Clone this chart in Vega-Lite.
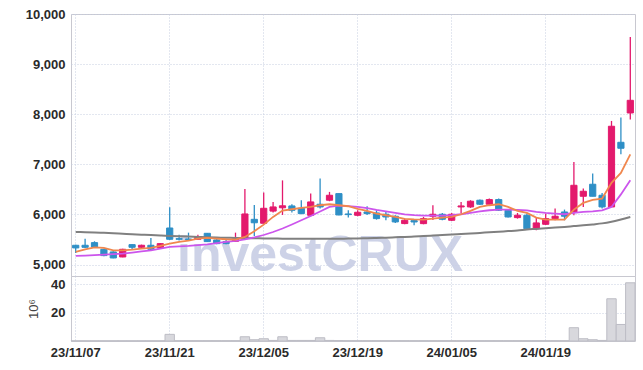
{
  "$schema": "https://vega.github.io/schema/vega-lite/v6.json",
  "padding": {"left": 24, "top": 7, "right": 10, "bottom": 9},
  "spacing": 0,
  "bounds": "flush",
  "background": "white",
  "datasets": {
    "k": [
      {"d":"23/11/07","o":5385,"h":5398,"l":5232,"c":5332,"m5":5252,"m20":5172,"mL":5650,"v":0.15},
      {"d":"23/11/08","o":5385,"h":5517,"l":5332,"c":5345,"m5":5305,"m20":5180,"mL":5645,"v":0.15},
      {"d":"23/11/09","o":5438,"h":5465,"l":5332,"c":5352,"m5":5345,"m20":5190,"mL":5640,"v":0.15},
      {"d":"23/11/10","o":5305,"h":5318,"l":5166,"c":5179,"m5":5332,"m20":5200,"mL":5633,"v":0.15},
      {"d":"23/11/13","o":5252,"h":5266,"l":5125,"c":5132,"m5":5285,"m20":5210,"mL":5625,"v":0.15},
      {"d":"23/11/14","o":5152,"h":5318,"l":5145,"c":5305,"m5":5285,"m20":5220,"mL":5615,"v":0.15},
      {"d":"23/11/15","o":5398,"h":5405,"l":5305,"c":5345,"m5":5299,"m20":5240,"mL":5605,"v":0.15},
      {"d":"23/11/16","o":5345,"h":5398,"l":5318,"c":5385,"m5":5318,"m20":5262,"mL":5597,"v":0.15},
      {"d":"23/11/17","o":5385,"h":5531,"l":5285,"c":5305,"m5":5332,"m20":5285,"mL":5590,"v":0.15},
      {"d":"23/11/20","o":5332,"h":5425,"l":5318,"c":5418,"m5":5372,"m20":5320,"mL":5580,"v":0.15},
      {"d":"23/11/21","o":5730,"h":6143,"l":5491,"c":5505,"m5":5418,"m20":5352,"mL":5572,"v":4.7},
      {"d":"23/11/22","o":5518,"h":5597,"l":5478,"c":5505,"m5":5451,"m20":5362,"mL":5566,"v":0.2},
      {"d":"23/11/23","o":5511,"h":5637,"l":5485,"c":5498,"m5":5478,"m20":5372,"mL":5560,"v":0.2},
      {"d":"23/11/24","o":5505,"h":5597,"l":5498,"c":5551,"m5":5518,"m20":5390,"mL":5552,"v":0.2},
      {"d":"23/11/27","o":5624,"h":5631,"l":5451,"c":5458,"m5":5531,"m20":5405,"mL":5545,"v":0.2},
      {"d":"23/11/28","o":5491,"h":5531,"l":5405,"c":5418,"m5":5518,"m20":5428,"mL":5540,"v":0.2},
      {"d":"23/11/29","o":5458,"h":5491,"l":5405,"c":5418,"m5":5505,"m20":5451,"mL":5535,"v":0.2},
      {"d":"23/11/30","o":5465,"h":5637,"l":5458,"c":5511,"m5":5498,"m20":5471,"mL":5532,"v":0.2},
      {"d":"23/12/01","o":5518,"h":6510,"l":5491,"c":6010,"m5":5551,"m20":5505,"mL":5528,"v":3.0},
      {"d":"23/12/04","o":5903,"h":6190,"l":5570,"c":5834,"m5":5665,"m20":5545,"mL":5525,"v":0.9},
      {"d":"23/12/05","o":5824,"h":6436,"l":5818,"c":6123,"m5":5797,"m20":5590,"mL":5522,"v":1.6},
      {"d":"23/12/06","o":6067,"h":6250,"l":6037,"c":6150,"m5":5951,"m20":5650,"mL":5519,"v":0.4},
      {"d":"23/12/07","o":6133,"h":6680,"l":5990,"c":6173,"m5":6077,"m20":5720,"mL":5517,"v":3.0},
      {"d":"23/12/08","o":6170,"h":6204,"l":6037,"c":6083,"m5":6104,"m20":5800,"mL":5515,"v":0.4},
      {"d":"23/12/11","o":6124,"h":6284,"l":6004,"c":6017,"m5":6130,"m20":5884,"mL":5514,"v":0.4},
      {"d":"23/12/12","o":5983,"h":6416,"l":5963,"c":6250,"m5":6150,"m20":5970,"mL":5513,"v":0.4},
      {"d":"23/12/13","o":6204,"h":6720,"l":6117,"c":6150,"m5":6184,"m20":6060,"mL":5513,"v":2.3},
      {"d":"23/12/14","o":6284,"h":6450,"l":6264,"c":6383,"m5":6204,"m20":6150,"mL":5514,"v":0.4},
      {"d":"23/12/15","o":6416,"h":6420,"l":5983,"c":5990,"m5":6184,"m20":6175,"mL":5516,"v":0.3},
      {"d":"23/12/18","o":6010,"h":6084,"l":5937,"c":5997,"m5":6164,"m20":6165,"mL":5518,"v":0.2},
      {"d":"23/12/19","o":5983,"h":6084,"l":5964,"c":6044,"m5":6110,"m20":6150,"mL":5521,"v":0.2},
      {"d":"23/12/20","o":6050,"h":6164,"l":5990,"c":6017,"m5":6071,"m20":6125,"mL":5525,"v":0.2},
      {"d":"23/12/21","o":6030,"h":6084,"l":5897,"c":5917,"m5":6017,"m20":6090,"mL":5530,"v":0.2},
      {"d":"23/12/22","o":6004,"h":6070,"l":5884,"c":5950,"m5":5984,"m20":6060,"mL":5537,"v":0.2},
      {"d":"23/12/26","o":5964,"h":5984,"l":5831,"c":5851,"m5":5951,"m20":6030,"mL":5544,"v":0.2},
      {"d":"23/12/27","o":5818,"h":5917,"l":5804,"c":5884,"m5":5910,"m20":6000,"mL":5552,"v":0.2},
      {"d":"23/12/28","o":5877,"h":5910,"l":5784,"c":5850,"m5":5900,"m20":5985,"mL":5560,"v":0.2},
      {"d":"24/01/02","o":5817,"h":5950,"l":5804,"c":5917,"m5":5897,"m20":5975,"mL":5569,"v":0.2},
      {"d":"24/01/03","o":5964,"h":6184,"l":5890,"c":6004,"m5":5918,"m20":5975,"mL":5578,"v":0.2},
      {"d":"24/01/04","o":6004,"h":6030,"l":5884,"c":5904,"m5":5938,"m20":5978,"mL":5588,"v":0.2},
      {"d":"24/01/05","o":5884,"h":6030,"l":5870,"c":6004,"m5":5951,"m20":5988,"mL":5598,"v":0.2},
      {"d":"24/01/08","o":6150,"h":6250,"l":6017,"c":6170,"m5":6004,"m20":6004,"mL":5609,"v":0.2},
      {"d":"24/01/09","o":6150,"h":6284,"l":6131,"c":6264,"m5":6071,"m20":6030,"mL":5620,"v":0.2},
      {"d":"24/01/10","o":6284,"h":6297,"l":6190,"c":6204,"m5":6150,"m20":6060,"mL":5632,"v":0.2},
      {"d":"24/01/11","o":6204,"h":6317,"l":6190,"c":6297,"m5":6184,"m20":6084,"mL":5644,"v":0.2},
      {"d":"24/01/12","o":6297,"h":6317,"l":6070,"c":6084,"m5":6204,"m20":6097,"mL":5656,"v":0.2},
      {"d":"24/01/15","o":6084,"h":6097,"l":5937,"c":5950,"m5":6150,"m20":6097,"mL":5668,"v":0.2},
      {"d":"24/01/16","o":5937,"h":6030,"l":5917,"c":5984,"m5":6071,"m20":6090,"mL":5680,"v":0.2},
      {"d":"24/01/17","o":5983,"h":6017,"l":5717,"c":5717,"m5":6030,"m20":6083,"mL":5700,"v":0.2},
      {"d":"24/01/18","o":5717,"h":5951,"l":5685,"c":5831,"m5":5937,"m20":6050,"mL":5712,"v":0.2},
      {"d":"24/01/19","o":5804,"h":6017,"l":5790,"c":5917,"m5":5897,"m20":6030,"mL":5725,"v":0.2},
      {"d":"24/01/22","o":5917,"h":6117,"l":5884,"c":5964,"m5":5897,"m20":6017,"mL":5738,"v":0.2},
      {"d":"24/01/23","o":6050,"h":6097,"l":5884,"c":5964,"m5":5897,"m20":6004,"mL":5752,"v":0.2},
      {"d":"24/01/24","o":6050,"h":7048,"l":5984,"c":6582,"m5":6097,"m20":6030,"mL":5768,"v":9.4},
      {"d":"24/01/25","o":6363,"h":6516,"l":6150,"c":6463,"m5":6230,"m20":6050,"mL":5784,"v":1.6},
      {"d":"24/01/26","o":6603,"h":6816,"l":6363,"c":6363,"m5":6290,"m20":6063,"mL":5802,"v":0.9},
      {"d":"24/01/29","o":6383,"h":6430,"l":6117,"c":6150,"m5":6317,"m20":6083,"mL":5822,"v":0.4},
      {"d":"24/01/30","o":6150,"h":7866,"l":6150,"c":7760,"m5":6630,"m20":6150,"mL":5855,"v":29.9},
      {"d":"24/01/31","o":7440,"h":7933,"l":7201,"c":7321,"m5":6829,"m20":6400,"mL":5900,"v":11.7},
      {"d":"24/02/01","o":8025,"h":9543,"l":7893,"c":8278,"m5":7200,"m20":6683,"mL":5950,"v":41.2}
    ],
    "wm": [{"d":"23/12/13","p":4870,"t":"investCRUX"}]
  },
  "config": {
    "view": {"stroke": "#c8c8d0", "strokeWidth": 1},
    "axis": {
      "labelFont": "Liberation Sans, sans-serif",
      "labelFontSize": 13,
      "labelFontWeight": "bold",
      "labelColor": "#2a2a2a",
      "gridColor": "#c6cee0",
      "gridDash": [1, 2],
      "gridWidth": 1,
      "ticks": false,
      "domain": false,
      "labelPadding": 6
    }
  },
  "vconcat": [
    {
      "width": 564,
      "height": 262,
      "encoding": {
        "x": {
          "field": "d", "type": "ordinal",
          "scale": {"paddingInner": 0, "paddingOuter": 0},
          "axis": {"title": null, "labels": false, "grid": true, "bandPosition": 0.5,
                   "values": ["23/11/07","23/11/21","23/12/05","23/12/19","24/01/05","24/01/19"]}
        }
      },
      "layer": [
        {
          "data": {"name": "wm"},
          "mark": {"type": "text", "font": "Liberation Sans", "fontWeight": "bold", "fontSize": 50, "fill": "#c8cee5", "opacity": 0.9, "align": "center", "baseline": "alphabetic"},
          "encoding": {
            "y": {
              "field": "p", "type": "quantitative",
              "scale": {"domain": [4772, 10000], "nice": false, "zero": false},
              "axis": {"title": null, "values": [5000, 6000, 7000, 8000, 9000, 10000], "format": ",d"}
            },
            "text": {"field": "t"}
          }
        },
        {
          "data": {"name": "k"},
          "mark": {"type": "rule", "strokeWidth": 1.3},
          "encoding": {
            "y": {"field": "l", "type": "quantitative"},
            "y2": {"field": "h"},
            "color": {"condition": {"test": "datum.c >= datum.o", "value": "#e3196c"}, "value": "#2e8fc6"}
          }
        },
        {
          "data": {"name": "k"},
          "mark": {"type": "bar", "width": {"band": 0.66}, "strokeWidth": 1},
          "encoding": {
            "y": {"field": "o", "type": "quantitative"},
            "y2": {"field": "c"},
            "fill": {"condition": {"test": "datum.c >= datum.o", "value": "#e3196c"}, "value": "#2e8fc6"},
            "stroke": {"condition": {"test": "datum.c >= datum.o", "value": "#e3196c"}, "value": "#2e8fc6"}
          }
        },
        {
          "data": {"name": "k"},
          "mark": {"type": "line", "color": "#808080", "strokeWidth": 2, "interpolate": "monotone"},
          "encoding": {"y": {"field": "mL", "type": "quantitative"}}
        },
        {
          "data": {"name": "k"},
          "mark": {"type": "line", "color": "#cc55ec", "strokeWidth": 1.8},
          "encoding": {"y": {"field": "m20", "type": "quantitative"}}
        },
        {
          "data": {"name": "k"},
          "mark": {"type": "line", "color": "#f0874e", "strokeWidth": 1.8},
          "encoding": {"y": {"field": "m5", "type": "quantitative"}}
        }
      ]
    },
    {
      "width": 564,
      "height": 65,
      "data": {"name": "k"},
      "mark": {"type": "bar", "width": {"band": 1}, "fill": "#d8d8dd", "stroke": "#bdbdc5", "strokeWidth": 1},
      "encoding": {
        "x": {
          "field": "d", "type": "ordinal",
          "scale": {"paddingInner": 0, "paddingOuter": 0},
          "axis": {"title": null, "grid": true, "bandPosition": 0.5, "labelAngle": 0, "labelPadding": 5,
                   "values": ["23/11/07","23/11/21","23/12/05","23/12/19","24/01/05","24/01/19"]}
        },
        "y": {
          "field": "v", "type": "quantitative",
          "scale": {"domain": [0, 46], "nice": false},
          "axis": {"title": "10⁶", "values": [20, 40], "titleFont": "Liberation Sans, sans-serif", "titleFontWeight": "normal", "titleFontSize": 13, "titleColor": "#444444", "titlePadding": 10}
        }
      }
    }
  ]
}
